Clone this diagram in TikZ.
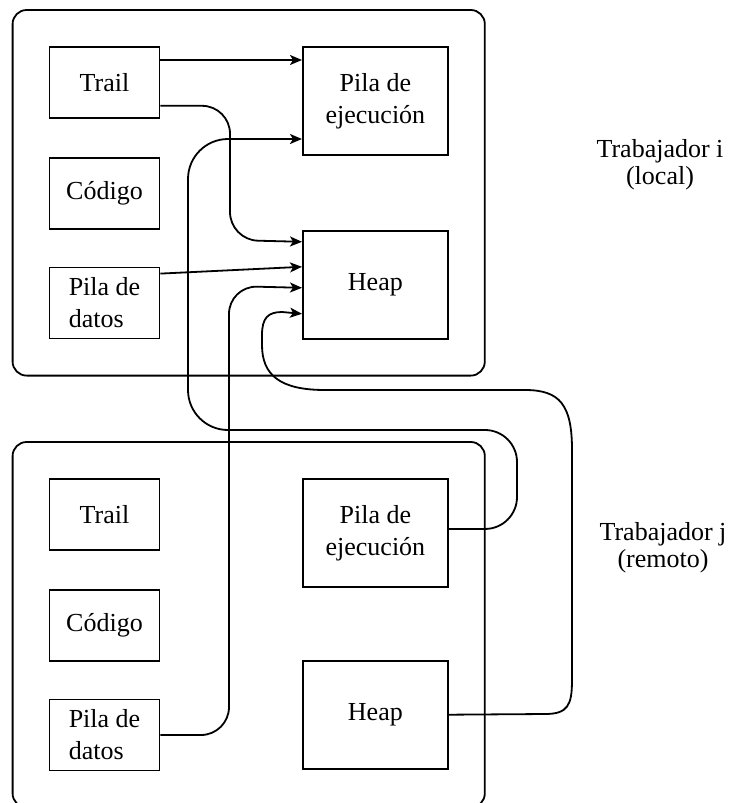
\documentclass[tikz,border=0pt]{standalone}
\usepackage{fontspec}
\setmainfont{Liberation Serif}
\usetikzlibrary{arrows.meta, positioning, fit}
\tikzstyle{celda} = [draw, line width=0.9pt, minimum width=55pt, minimum height=35.5pt, inner sep=1pt, align=center, font=\fontsize{13}{16}\selectfont]
\tikzstyle{pila} = [draw, line width=0.9pt, minimum width=72.5pt, minimum height=54pt, inner sep=1pt, align=center, font=\fontsize{13}{16}\selectfont]
\tikzstyle{trabajador} = [draw, line width=0.9pt, rounded corners=7pt, inner sep=18pt]
\tikzstyle{etiqueta} = [align=center, font=\fontsize{13}{13.5}\selectfont]
\tikzstyle{flecha} = [line width=0.9pt, -{Stealth[length=6pt, width=5pt, inset=1.5pt]}]

\begin{document}
\begin{tikzpicture}[x=0.5pt, y=-0.5pt]
            \useasboundingbox (0,0) rectangle (735,803);

            \node[celda, anchor=north] (t-trail) at (104.5,46) {Trail};
            \node[celda, below=19pt of t-trail] (t-codigo) {Código};
            \node[celda, below=18.5pt of t-codigo, align=left] (t-datos) {Pila de\\datos};
            \node[pila, anchor=north west] (t-ejec) at (302,46) {Pila de\\ejecución};
            \node[pila, below=37pt of t-ejec] (t-heap) {Heap};
            \node[trabajador, fit=(t-trail)(t-datos)(t-ejec)(t-heap)] (t-marco) {};

            \node[celda, anchor=north] (r-trail) at (104.5,478) {Trail};
            \node[celda, below=19pt of r-trail] (r-codigo) {Código};
            \node[celda, below=18.5pt of r-codigo, align=left] (r-datos) {Pila de\\datos};
            \node[pila, anchor=north west] (r-ejec) at (302,478) {Pila de\\ejecución};
            \node[pila, below=36pt of r-ejec] (r-heap) {Heap};
            \node[trabajador, fit=(r-trail)(r-datos)(r-ejec)(r-heap)] (r-marco) {};

            \node[etiqueta] (t-nombre) at (660,165) {Trabajador i\\(local)};
            \node[etiqueta] (r-nombre) at (663,548) {Trabajador j\\(remoto)};

            \draw[flecha] ([yshift=-7pt]t-trail.north east) -- ([yshift=-7pt]t-ejec.north west);
            \draw[flecha, rounded corners=14pt] ([yshift=6.5pt]t-trail.south east) -| (230,240) -- ([yshift=-6pt]t-heap.north west);
            \draw[flecha] ([yshift=-3.5pt]t-datos.north east) -- ([yshift=-18.5pt]t-heap.north west);
            \draw[flecha, rounded corners=14pt] (r-datos.east) -| (229,286) -- ([yshift=-29pt]t-heap.north west);
            \draw[flecha] (r-heap.east) -- (545,714) .. controls (568,714) and (572,705) .. (572,680) -- (572,450) .. controls (572,405) and (560,390) .. (525,390) -- (325,390) .. controls (280,390) and (262,375) .. (262,345) -- (262,335) .. controls (262,318) and (268,312) .. (282,312) -- ([yshift=-42pt]t-heap.north west);
            \draw[flecha, rounded corners=16pt] ([yshift=2pt]r-ejec.east) -- (517,529) -- (517,430) [rounded corners=20pt] -- (188,430) -- (188,139) -- ([yshift=-46.5pt]t-ejec.north west);
        \end{tikzpicture}
\end{document}
